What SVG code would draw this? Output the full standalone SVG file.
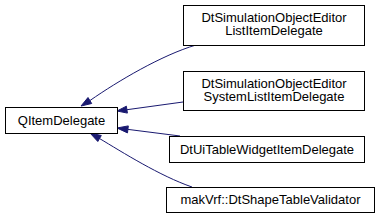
<svg xmlns="http://www.w3.org/2000/svg" width="379" height="219" viewBox="0 0 379 219">
<style>
.box{fill:#fff;stroke:#000;stroke-width:1}
.t{font-family:"Liberation Sans",Arial,sans-serif;font-size:13px;text-anchor:middle;fill:#000}
.e{fill:none;stroke:#191970;stroke-width:1}
.h{fill:#191970;stroke:#191970;stroke-width:1}
</style>
<rect width="379" height="219" fill="#fff"/>
<g id="edges">
<path class="e" d="M196,45 C162,55 118,81 90,100.5"/>
<polygon class="h" points="81,106 88,97.5 91.7,103.5"/>
<path class="e" d="M183,102 L127,109.7"/>
<polygon class="h" points="117,111 126.4,106.2 127.4,113.1"/>
<path class="e" d="M180,136 L128,129.4"/>
<polygon class="h" points="117,128 128.3,125.9 127.5,132.9"/>
<path class="e" d="M192,187 C160,176 122,152 99.5,138.5"/>
<polygon class="h" points="90,133 101.3,135.5 97.8,141.5"/>
</g>
<g id="QItemDelegate">
<rect class="box" x="5.5" y="107.5" width="112" height="26"/>
<text class="t" x="61.5" y="124.5">QItemDelegate</text>
</g>
<g id="ListItemDelegate">
<rect class="box" x="183.5" y="5.5" width="181" height="40"/>
<text class="t" x="274" y="21.5">DtSimulationObjectEditor</text>
<text class="t" x="274" y="35">ListItemDelegate</text>
</g>
<g id="SystemListItemDelegate">
<rect class="box" x="183.5" y="71.5" width="181" height="39"/>
<text class="t" x="274" y="87.5">DtSimulationObjectEditor</text>
<text class="t" x="274" y="101">SystemListItemDelegate</text>
</g>
<g id="DtUiTableWidgetItemDelegate">
<rect class="box" x="169.5" y="136.5" width="195" height="26"/>
<text class="t" x="267" y="153.5">DtUiTableWidgetItemDelegate</text>
</g>
<g id="DtShapeTableValidator">
<rect class="box" x="166.5" y="187.5" width="208" height="25"/>
<text class="t" x="270.5" y="204">makVrf::DtShapeTableValidator</text>
</g>
</svg>
